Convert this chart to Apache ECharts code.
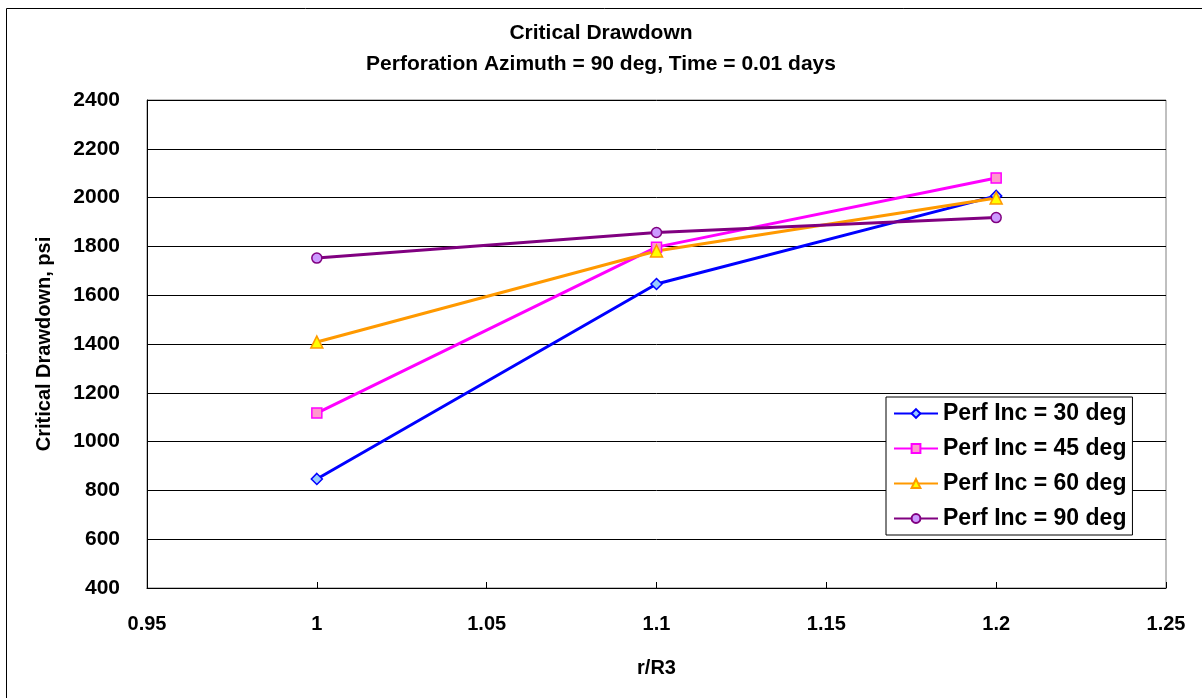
<!DOCTYPE html>
<html><head><meta charset="utf-8">
<script src="https://cdn.jsdelivr.net/npm/echarts@6/dist/echarts.min.js"></script>
<style>html,body{margin:0;padding:0;background:#fff}#c{width:1202px;height:698px}</style>
</head><body><div id="c"></div>
<script>
const xValues = [1, 1.1, 1.2];
const inc30 = [847, 1646, 2007];
const inc45 = [1117, 1797, 2080];
const inc60 = [1408, 1781, 1998];
const inc90 = [1752, 1857, 1918];
const seriesNames = ['Perf Inc = 30 deg','Perf Inc = 45 deg','Perf Inc = 60 deg','Perf Inc = 90 deg'];
const titleText = 'Critical Drawdown';
const subtitleText = 'Perforation Azimuth = 90 deg, Time = 0.01 days';
const xName = 'r/R3';
const yName = 'Critical Drawdown, psi';

const F = 'Liberation Sans, Arial, sans-serif';
const styles = [
  {line:'#0000ff', fill:'#99ccff', border:'#0000ff', symbol:'diamond', size:11},
  {line:'#ff00ff', fill:'#ff99cc', border:'#ff00ff', symbol:'rect', size:10},
  {line:'#ff9900', fill:'#ffff00', border:'#ff9900', symbol:'triangle', size:12},
  {line:'#800080', fill:'#cc99ff', border:'#800080', symbol:'circle', size:10}
];
const datas = [inc30, inc45, inc60, inc90];
const chart = echarts.init(document.getElementById('c'), null, {renderer:'canvas'});
chart.setOption({
  animation:false,
  backgroundColor:'#fff',
  title:[
    {text:titleText, left:'center', top:18, textStyle:{fontFamily:F, fontSize:21, fontWeight:'bold', color:'#000'}},
    {text:subtitleText, left:'center', top:49, textStyle:{fontFamily:F, fontSize:21, fontWeight:'bold', color:'#000'}}
  ],
  graphic:[{type:'rect', shape:{x:6.5, y:8.5, width:1200, height:700}, style:{fill:'none', stroke:'#000', lineWidth:1}, silent:true}],
  grid:{left:147, right:36, top:100, bottom:110, show:true, borderColor:'#808080', borderWidth:1},
  legend:{
    orient:'vertical', left:886, top:397, itemGap:12, itemWidth:44, itemHeight:11,
    padding:[5,6,5,7], borderColor:'#000', borderWidth:1, backgroundColor:'#fff',
    textStyle:{fontFamily:F, fontSize:23, fontWeight:'bold', color:'#000'},
    data:seriesNames
  },
  xAxis:{
    type:'value', min:0.95, max:1.25, interval:0.05,
    name:xName, nameLocation:'middle', nameGap:70,
    nameTextStyle:{fontFamily:F, fontSize:20, fontWeight:'bold', color:'#000'},
    axisLine:{show:true, onZero:false, lineStyle:{color:'#000', width:1}},
    axisTick:{show:true, inside:true, length:6, lineStyle:{color:'#000'}},
    axisLabel:{fontFamily:F, fontSize:20, fontWeight:'bold', color:'#000', margin:26,
      formatter:v=>String(Math.round(v*100)/100)},
    splitLine:{show:false}
  },
  yAxis:{
    type:'value', min:400, max:2400, interval:200,
    name:yName, nameLocation:'middle', nameGap:93, nameRotate:90,
    nameTextStyle:{fontFamily:F, fontSize:20, fontWeight:'bold', color:'#000'},
    axisLine:{show:true, onZero:false, lineStyle:{color:'#000', width:1}},
    axisTick:{show:true, inside:true, length:6, lineStyle:{color:'#000'}},
    axisLabel:{fontFamily:F, fontSize:21, fontWeight:'bold', color:'#000', margin:27,
      formatter:v=>String(v)},
    splitLine:{show:true, lineStyle:{color:'#000', width:1}}
  },
  series: datas.map((d,i)=>({
    name:seriesNames[i], type:'line',
    data:xValues.map((x,j)=>[x,d[j]]),
    symbol:styles[i].symbol, symbolSize:styles[i].size, showSymbol:true,
    lineStyle:{color:styles[i].line, width:3},
    itemStyle:{color:styles[i].fill, borderColor:styles[i].border, borderWidth:1.5},
    emphasis:{disabled:true}
  }))
});
</script></body></html>
